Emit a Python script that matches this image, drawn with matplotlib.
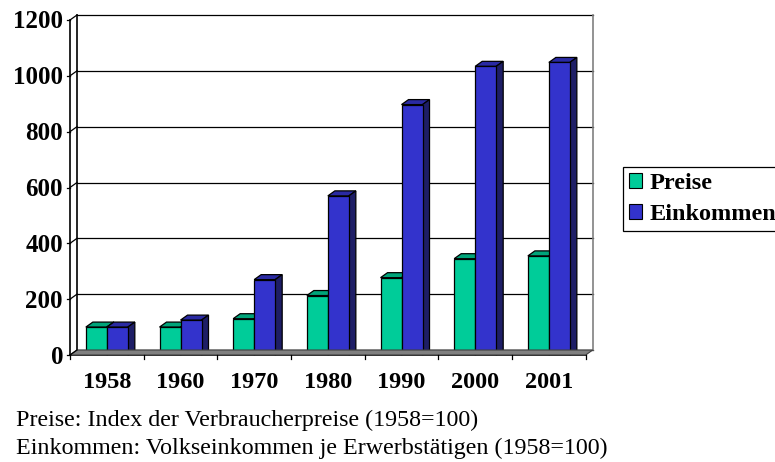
import numpy as np
import matplotlib
matplotlib.use('Agg')
import matplotlib.pyplot as plt
from matplotlib import transforms
from matplotlib.patches import Polygon, Patch

years = ['1958', '1960', '1970', '1980', '1990', '2000', '2001']
preise = [100, 100, 130, 213, 277, 345, 355]
einkommen = [100, 125, 270, 570, 897, 1034, 1048]
yticks = [0, 200, 400, 600, 800, 1000, 1200]
series_names = ['Preise', 'Einkommen']
footnotes = ['Preise: Index der Verbraucherpreise (1958=100)',
             'Einkommen: Volkseinkommen je Erwerbstätigen (1958=100)']

front_cols = ['#00cc99', '#3333cc']
top_cols = ['#00a47a', '#2a2aa3']
side_cols = ['#007a5c', '#1e1e66']

plt.rcParams['font.family'] = ['Liberation Serif', 'DejaVu Serif']

fig = plt.figure(figsize=(7.75, 4.62), dpi=100)
ax = fig.add_axes([70 / 775, 107 / 462, 515.7 / 775, 335 / 462])
ax.set_xlim(-0.5, len(years) - 0.5)
ax.set_ylim(0, 1200)
ax.axis('off')

# depth of the 3d look in pixels
DX, DY = 7, 5
back = transforms.offset_copy(ax.transData, fig, x=DX, y=DY, units='dots')
to_px = ax.transData.transform
px = transforms.IdentityTransform()

x = np.arange(len(years))
w = 0.285

# floor
f0 = to_px((-0.5, 0))
f1 = to_px((len(years) - 0.5, 0))
floor = Polygon([f0, f1, f1 + [DX, DY], f0 + [DX, DY]], closed=True,
                facecolor='#808080', edgecolor='#404040', lw=0.8,
                transform=px, zorder=1)
fig.patches.append(floor)
ax.plot([-0.5, len(years) - 0.5], [0, 0], color='black', lw=1.2, zorder=2,
        clip_on=False)

# back wall + gridlines + left wall
for v in yticks:
    ax.plot([-0.5, len(years) - 0.5], [v, v], color='black', lw=0.9,
            transform=back, zorder=1, clip_on=False)
    p = to_px((-0.5, v))
    fig.add_artist(plt.Line2D([p[0], p[0] + DX], [p[1], p[1] + DY],
                              color='black', lw=0.9, transform=px))
    fig.add_artist(plt.Line2D([p[0] - 3, p[0]], [p[1], p[1]],
                              color='black', lw=0.9, transform=px))
    ax.text(-0.5, v, str(v), transform=transforms.offset_copy(
        ax.transData, fig, x=-7, y=-2, units='dots'),
        ha='right', va='center', fontsize=18, fontweight='bold')
ax.plot([-0.5, -0.5], [0, 1200], color='black', lw=1.2, transform=back,
        clip_on=False)
ax.plot([-0.5, -0.5], [0, 1200], color='black', lw=1.2, clip_on=False)
ax.plot([len(years) - 0.5] * 2, [0, 1200], color='#808080', lw=1.2,
        transform=back, clip_on=False)

# category ticks and labels
for i in range(len(years) + 1):
    p = to_px((i - 0.5, 0))
    fig.add_artist(plt.Line2D([p[0], p[0]], [p[1], p[1] - 4],
                              color='black', lw=0.9, transform=px))
for i, yr in enumerate(years):
    ax.text(i, 0, yr, transform=transforms.offset_copy(
        ax.transData, fig, x=0, y=-27, units='dots'),
        ha='center', va='center', fontsize=17.5, fontweight='bold')

# bars
for k, vals in enumerate([preise, einkommen]):
    xs = x + (k - 0.5) * w
    ax.bar(xs, vals, width=w, color=front_cols[k], edgecolor='black',
           lw=0.9, zorder=4)
    for xi, v in zip(xs, vals):
        l = to_px((xi - w / 2, v))
        r = to_px((xi + w / 2, v))
        b = to_px((xi + w / 2, 0))
        top = Polygon([l, r, r + [DX, DY], l + [DX, DY]], closed=True,
                      facecolor=top_cols[k], edgecolor='black', lw=0.9,
                      transform=px, zorder=3, clip_on=False)
        side = Polygon([b, r, r + [DX, DY], b + [DX, DY]], closed=True,
                       facecolor=side_cols[k], edgecolor='black', lw=0.9,
                       transform=px, zorder=3, clip_on=False)
        ax.add_patch(top)
        ax.add_patch(side)

# legend
handles = [Patch(facecolor=c, edgecolor='black', lw=0.8) for c in front_cols]
leg = fig.legend(handles, series_names, loc='upper left',
                 bbox_to_anchor=(623 / 775, 1 - 167 / 462),
                 prop={'weight': 'bold', 'size': 17.5}, frameon=True,
                 fancybox=False, edgecolor='black', framealpha=1,
                 handlelength=0.55, handleheight=0.55, handletextpad=0.3,
                 borderpad=0.25, labelspacing=0.4, borderaxespad=0)
leg.get_frame().set_linewidth(0.9)

fig.text(16 / 775, 1 - 426 / 462, footnotes[0], fontsize=17.3,
         va='baseline')
fig.text(16 / 775, 1 - 454 / 462, footnotes[1], fontsize=17.3,
         va='baseline')

fig.savefig('out.png', dpi=100)
